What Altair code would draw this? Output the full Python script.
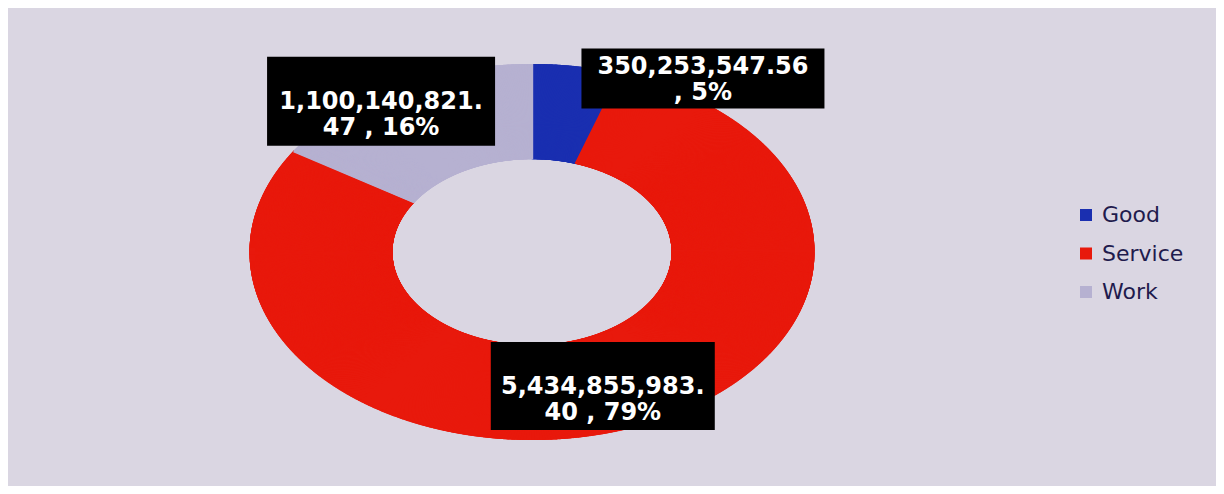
import altair as alt
import pandas as pd

# ---- data ----
categories = ["Good", "Service", "Work"]
values = [350253547.56, 5434855983.40, 1100140821.47]
colors = ["#1a2fb0", "#e8190c", "#b6b1d1"]

total = sum(values)
pct = [round(v / total * 100) for v in values]


def wrap(s, n=14):
    lines = []
    while len(s) > n:
        lines.append(s[:n].strip())
        s = s[n:]
    lines.append(s.strip())
    return "\n".join(lines)


labels = [wrap(f"{v:,.2f} , {p}%") for v, p in zip(values, pct)]

df = pd.DataFrame({
    "category": categories,
    "value": values,
    "order": list(range(len(categories))),
    "label": labels,
})

# ---- styling / layout (not data) ----
W, H = 1208, 478
CX, CY = 524, 244          # ellipse centre in plot pixels
RX, RY = 282.5, 188        # outer radii in pixels
R_IN = 0.494               # inner / outer radius ratio
N_SPOKES = 2400

# label box placement: pixel offset of box centre from wedge mid-point on outer rim,
# box width/height, first text line offset from box centre
label_style = {
    "Good":    dict(dx=126, dy=12, w=243, h=60, tdy=-11),
    "Service": dict(dx=-24, dy=-43, w=224, h=88, tdy=1),
    "Work":    dict(dx=-15, dy=14, w=228, h=89, tdy=1),
}

xs = alt.Scale(domain=[-1, 1], range=[CX - RX, CX + RX])
ys = alt.Scale(domain=[-1, 1], range=[CY + RY, CY - RY])
color_scale = alt.Scale(domain=categories, range=colors)

base = alt.Chart(df).transform_joinaggregate(
    total="sum(value)"
).transform_window(
    cum="sum(value)", sort=[alt.SortField("order")], frame=[None, 0]
).transform_calculate(
    start="(datum.cum - datum.value) / datum.total",
    end="datum.cum / datum.total",
).transform_calculate(
    mid="2 * PI * (datum.start + datum.end) / 2"
)

ring = base.transform_calculate(
    n=f"ceil((datum.end - datum.start) * {N_SPOKES})"
).transform_calculate(
    steps="sequence(0, datum.n + 1)"
).transform_flatten(["steps"]).transform_calculate(
    ang="2 * PI * (datum.start + (datum.end - datum.start) * datum.steps / datum.n)"
).transform_calculate(
    xi=f"{R_IN} * sin(datum.ang)",
    yi=f"{R_IN} * cos(datum.ang)",
    xo="sin(datum.ang)",
    yo="cos(datum.ang)",
).mark_rule(strokeWidth=2.4).encode(
    x=alt.X("xi:Q", scale=xs, axis=None),
    y=alt.Y("yi:Q", scale=ys, axis=None),
    x2="xo:Q",
    y2="yo:Q",
    color=alt.Color(
        "category:N",
        scale=color_scale,
        sort=categories,
        legend=alt.Legend(
            title=None,
            orient="none",
            legendX=1067,
            legendY=196,
            symbolType="square",
            symbolSize=36,
            symbolStrokeWidth=6,
            labelFont="DejaVu Sans",
            labelFontSize=22,
            labelColor="#1f1b4d",
            rowPadding=8.5,
            labelOffset=5,
        ),
    ),
)

layers = [ring]
for cat in categories:
    st = label_style[cat]
    ox = st["dx"] / RX
    oy = -st["dy"] / RY
    hw = st["w"] / 2 / RX
    hh = st["h"] / 2 / RY
    lb = base.transform_filter(alt.datum.category == cat).transform_calculate(
        bx=f"sin(datum.mid) + {ox}",
        by=f"cos(datum.mid) + {oy}",
    ).transform_calculate(
        bx1=f"datum.bx - {hw}",
        bx2=f"datum.bx + {hw}",
        by1=f"datum.by - {hh}",
        by2=f"datum.by + {hh}",
    )
    box = lb.mark_rect(color="#000000").encode(
        x=alt.X("bx1:Q", scale=xs, axis=None),
        x2="bx2:Q",
        y=alt.Y("by1:Q", scale=ys, axis=None),
        y2="by2:Q",
    )
    txt = lb.mark_text(
        font="DejaVu Sans",
        fontWeight="bold",
        fontSize=24,
        color="#ffffff",
        align="center",
        baseline="middle",
        lineBreak="\n",
        lineHeight=26,
        dy=st["tdy"],
    ).encode(
        x=alt.X("bx:Q", scale=xs, axis=None),
        y=alt.Y("by:Q", scale=ys, axis=None),
        text="label:N",
    )
    layers += [box, txt]

chart = alt.layer(*layers).properties(
    width=W,
    height=H,
    background="#dad6e2",
    padding=0,
    autosize=alt.AutoSizeParams(type="none"),
).configure_view(stroke=None)

chart.save("out.html", embed_options={"renderer": "svg", "actions": False})
